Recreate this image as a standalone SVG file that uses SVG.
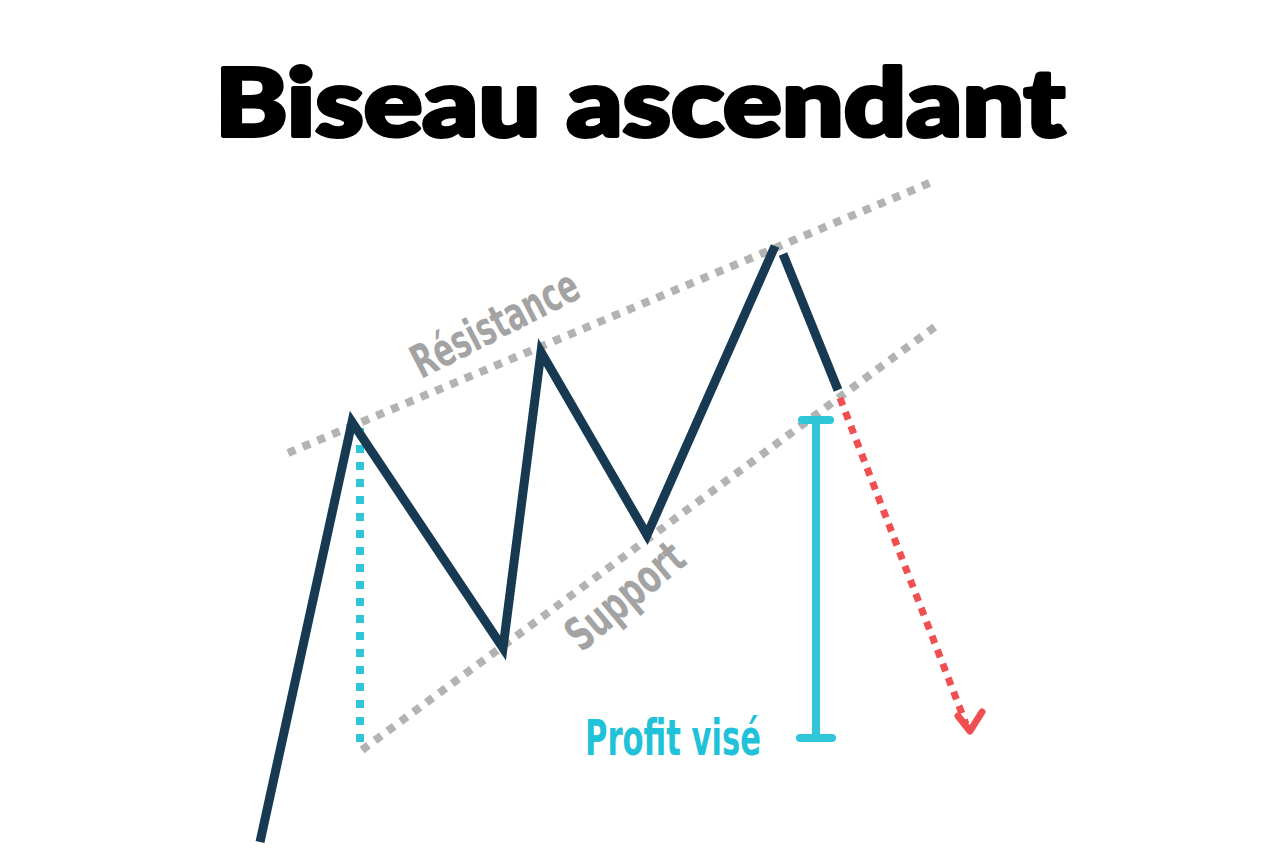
<svg xmlns="http://www.w3.org/2000/svg" width="1280" height="854" viewBox="0 0 1280 854">
<style>
.guide{fill:none;stroke:#b3b3b3;stroke-width:8;stroke-dasharray:8 8}
.price{fill:none;stroke:#173a52;stroke-width:9;stroke-linejoin:miter;stroke-linecap:butt}
.cyan{fill:none;stroke:#2fc6d8;stroke-width:8}
.red{fill:none;stroke:#f04f52;stroke-width:7;stroke-dasharray:8 7}
.lbl{font-family:"Liberation Sans Narrow","DejaVu Sans Condensed","Liberation Sans",sans-serif;font-weight:bold;font-stretch:condensed}
</style>
<rect width="1280" height="854" fill="#ffffff"/>
<g id="title">
<text x="640" y="136" text-anchor="middle" font-family="Lato,'Liberation Sans',sans-serif" font-weight="900" font-size="94" textLength="850" lengthAdjust="spacingAndGlyphs" fill="#000" stroke="#000" stroke-width="4" stroke-linejoin="round">Biseau ascendant</text>
</g>
<g id="connectors">
<line id="resistance-line" class="guide" x1="288" y1="453" x2="932" y2="182"/>
<line id="support-line" class="guide" x1="362" y1="750" x2="936" y2="326"/>
<line id="height-dotted" x1="360" y1="428" x2="360" y2="745" stroke="#2fc6d8" stroke-width="8" stroke-dasharray="8 9"/>
<path id="breakout" class="red" d="M840 398 L966 724"/>
<path d="M958 716 L970 731 L982 712" fill="none" stroke="#f04f52" stroke-width="7" stroke-linecap="round" stroke-linejoin="round"/>
</g>
<g id="price">
<polyline class="price" points="260,842 352,422 503,648 541,352 647,535 775,246"/>
<line class="price" x1="783" y1="254" x2="838" y2="390"/>
</g>
<g id="target">
<line class="cyan" x1="816" y1="420" x2="816" y2="738"/>
<line class="cyan" x1="802" y1="420" x2="830" y2="420" stroke-linecap="round"/>
<line class="cyan" x1="800" y1="738" x2="832" y2="738" stroke-linecap="round"/>
</g>
<g id="label-resistance">
<text class="lbl" x="0" y="0" font-size="46" fill="#a3a3a3" text-anchor="middle" textLength="182" lengthAdjust="spacingAndGlyphs" transform="translate(502,338) rotate(-27)">Résistance</text>
</g>
<g id="label-support">
<text class="lbl" x="0" y="0" font-size="46" fill="#a3a3a3" text-anchor="middle" textLength="140" lengthAdjust="spacingAndGlyphs" transform="translate(635,608) rotate(-40)">Support</text>
</g>
<g id="label-profit">
<text class="lbl" x="585" y="755" font-size="50" fill="#1fc2d8" textLength="176" lengthAdjust="spacingAndGlyphs">Profit visé</text>
</g>
</svg>
